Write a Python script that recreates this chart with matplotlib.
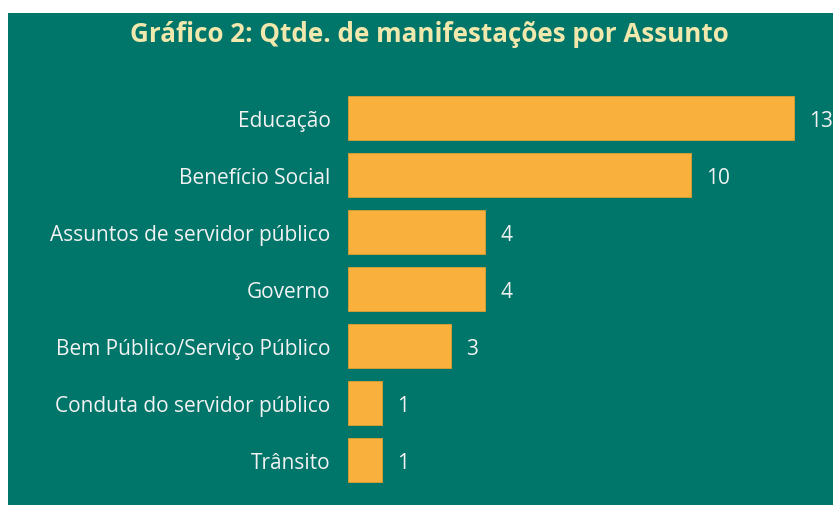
import matplotlib
matplotlib.use("Agg")
import matplotlib.pyplot as plt
from matplotlib.patches import Rectangle

categories = ["Educação", "Benefício Social", "Assuntos de servidor público", "Governo",
              "Bem Público/Serviço Público", "Conduta do servidor público", "Trânsito"]
values = [13, 10, 4, 4, 3, 1, 1]
title = "Gráfico 2: Qtde. de manifestações por Assunto"

BG = "#00756A"
BAR = "#F9B03C"
TITLE_C = "#F0E8AC"
TXT = "#F2F2F2"

plt.rcParams['font.family'] = ['Open Sans', 'DejaVu Sans']

W, H = 833, 506
fig = plt.figure(figsize=(W / 100, H / 100), dpi=100)
fig.patch.set_facecolor("white")
bg = Rectangle((8 / W, 0), 1, (H - 14) / H, transform=fig.transFigure,
               facecolor=BG, edgecolor="none", zorder=-10)
fig.add_artist(bg)

ax = fig.add_axes([348 / W, (H - 490) / H, (W - 348) / W, 400 / H])
ax.set_zorder(1)
ax.set_facecolor("none")
ypos = list(range(len(categories)))
ax.barh(ypos, values, height=0.77, color=BAR, edgecolor="#E0A030", linewidth=0.6)
ax.set_xlim(0, 14.14)
ax.set_ylim(6.509, -0.509)
ax.set_yticks(ypos)
ax.set_yticklabels(categories, color=TXT, fontsize=15)
ax.tick_params(axis='y', length=0, pad=12.5)
ax.set_xticks([])
for s in ax.spines.values():
    s.set_visible(False)
for y, v in zip(ypos, values):
    ax.annotate(str(v), (v, y), xytext=(15, 0), textcoords="offset pixels",
                va="center_baseline", ha="left", color=TXT, fontsize=15,
                fontweight="medium", annotation_clip=False)

fig.text(429.5 / W, 1 - 34.5 / H, title, ha="center", va="center", color=TITLE_C,
         fontsize=18.7, fontweight="bold", zorder=2)

fig.savefig("out.png", dpi=100)
